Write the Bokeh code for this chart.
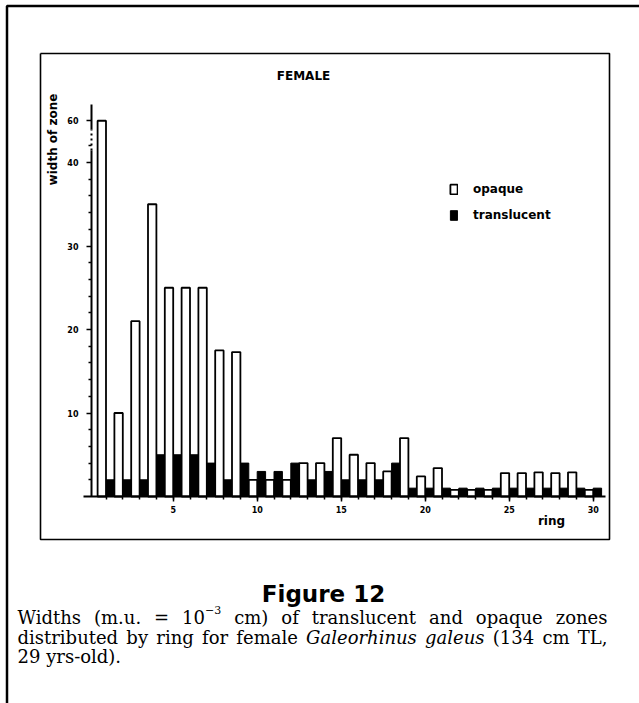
import math
from bokeh.plotting import figure
from bokeh.models import (Range1d, LinearAxis, FixedTicker, Legend, LegendItem,
                          Label, ColumnDataSource)
from bokeh.transform import dodge
from bokeh.embed import file_html
from bokeh.resources import INLINE

# ---------------- data ----------------
rings = list(range(1, 31))
opaque = [60, 10, 21, 35, 25, 25, 25, 17.5, 17.3, 2, 2, 2, 4, 4, 7,
          5, 4, 3, 7, 2.4, 3.4, 0.8, 0.8, 0.8, 2.8, 2.8, 2.9, 2.8, 2.9, 0.8]
translucent = [2, 2, 2, 5, 5, 5, 4, 2, 4, 3, 3, 4, 2, 3, 2,
               2, 2, 4, 1, 1, 1, 1, 1, 1, 1, 1, 1, 1, 1, 1]
x_major_ticks = [5, 10, 15, 20, 25, 30]
y_major_ticks = [10, 20, 30, 40, 60]
y_minor_ticks = [2, 4, 6, 8, 12, 14, 16, 18, 22, 24, 26, 28, 32, 34, 36, 38, 42]

title_text = "FEMALE"
y_label = "width of zone"
x_label = "ring"
fig_label = "Figure 12"

# broken y axis: values above 40 are compressed
BREAK, COMPRESS = 40.0, 0.25
def disp(v):
    return v if v <= BREAK else BREAK + (v - BREAK) * COMPRESS

# ---------------- page-pixel <-> data helpers (layout only) ----------------
W, H = 639, 703
def X(px):
    return 1 + (px - 105.5) / 16.8
def Y(py):
    return (496 - py) / 8.35

p = figure(width=W, height=H, output_backend="svg", toolbar_location=None,
           x_range=Range1d(X(0), X(W)), y_range=Range1d(Y(H), Y(0)),
           x_axis_type=None, y_axis_type=None, min_border=0)
p.outline_line_color = None
p.background_fill_color = "white"
p.border_fill_color = "white"

src = ColumnDataSource(dict(ring=rings,
                            op=[disp(v) for v in opaque],
                            tr=translucent))

tr_r = p.vbar(x=dodge("ring", 0.25, range=p.x_range), top="tr", bottom=0, width=0.5,
              fill_color="black", line_color="black", line_width=1, source=src)
op_r = p.vbar(x=dodge("ring", -0.25, range=p.x_range), top="op", bottom=0, width=0.5,
              fill_color="white", line_color="black", line_width=1.8, source=src)

# ---------------- axes ----------------
FONT = "DejaVu Sans"
xaxis = LinearAxis(fixed_location=0, bounds=(X(83), X(605)),
                   ticker=FixedTicker(ticks=x_major_ticks, minor_ticks=rings))
xaxis.axis_line_width = 2
xaxis.major_tick_in = 0
xaxis.major_tick_out = 5
xaxis.minor_tick_in = 0
xaxis.minor_tick_out = 3
xaxis.major_tick_line_width = 1.5
xaxis.minor_tick_line_width = 1.5
xaxis.major_label_standoff = 4
xaxis.major_label_text_font = FONT
xaxis.major_label_text_font_style = "bold"
xaxis.major_label_text_font_size = "8px"
xaxis.major_label_text_color = "black"
p.add_layout(xaxis, "below")

y_disp_ticks = [disp(t) for t in y_major_ticks]
yaxis = LinearAxis(fixed_location=X(91), bounds=(0, Y(104)),
                   ticker=FixedTicker(ticks=y_disp_ticks, minor_ticks=y_minor_ticks),
                   major_label_overrides={float(d): str(t) for d, t in zip(y_disp_ticks, y_major_ticks)})
yaxis.axis_line_color = None
yaxis.major_tick_in = 0
yaxis.major_tick_out = 5
yaxis.minor_tick_in = 0
yaxis.minor_tick_out = 3
yaxis.major_tick_line_width = 1.5
yaxis.minor_tick_line_width = 1.5
yaxis.major_label_standoff = 8
yaxis.major_label_text_font = FONT
yaxis.major_label_text_font_style = "bold"
yaxis.major_label_text_font_size = "8px"
yaxis.major_label_text_color = "black"
p.add_layout(yaxis, "left")

# y axis line with a dotted break
ax = X(91)
p.line([ax, ax], [0, Y(150)], line_color="black", line_width=2)
p.line([ax, ax], [Y(150), Y(129)], line_color="black", line_width=2, line_dash="2 3")
p.line([ax, ax], [Y(129), Y(104)], line_color="black", line_width=2)

# ---------------- frames ----------------
p.line([X(6.5), X(6.5), X(W)], [Y(H), Y(5.5), Y(5.5)], line_color="black", line_width=2.5)
p.line([X(40), X(609), X(609), X(40), X(40)], [Y(53), Y(53), Y(539), Y(539), Y(53)],
       line_color="black", line_width=1.6)

# ---------------- texts ----------------
def lab(text, px, py, size, font=FONT, style="bold", align="center", baseline="middle", angle=0):
    p.add_layout(Label(x=X(px), y=Y(py), text=text, text_font=font, text_font_style=style,
                       text_font_size=size, text_align=align, text_baseline=baseline,
                       angle=angle, text_color="black"))

lab(title_text, 303, 75, "12px")
lab(y_label, 52, 139, "12px", angle=math.pi / 2)
lab(x_label, 551, 520, "12px")
lab(fig_label, 323, 593, "23px", baseline="alphabetic")

# legend
legend = Legend(items=[LegendItem(label="opaque", renderers=[op_r]),
                       LegendItem(label="translucent", renderers=[tr_r])],
                location=(449, H - 222), padding=0, margin=0, spacing=12,
                glyph_width=9, glyph_height=12, label_height=14, label_standoff=15,
                label_text_font=FONT, label_text_font_style="bold",
                label_text_font_size="12px", label_text_color="black",
                border_line_color=None, background_fill_alpha=0)
p.add_layout(legend)

# ---------------- caption (serif, justified word by word) ----------------
SERIF = "DejaVu Serif"
_EM = {' ': .318, '(': .390, ')': .390, '.': .318, ',': .318, '-': .339, '=': .838,
       '\u2212': .838, 'W': 1.027, 'T': .627, 'L': .620, 'G': .776,
       'a': .596, 'b': .642, 'c': .551, 'd': .642, 'e': .592, 'f': .371, 'g': .642,
       'h': .648, 'i': .320, 'l': .320, 'm': .973, 'n': .648, 'o': .602, 'p': .642,
       'q': .642, 'r': .478, 's': .513, 't': .401, 'u': .648, 'y': .575, 'z': .524}
def tw(text, size, italic=False):
    try:
        from PIL import ImageFont
        f = ImageFont.truetype("DejaVuSerif-Italic.ttf" if italic else "DejaVuSerif.ttf", size)
        return f.getlength(text)
    except Exception:
        return sum(_EM.get(c, .636) for c in text) * size

CS = 18
def justify(pieces, base, x0, x1):
    # pieces: (text, size, italic, attached, raise)
    total = sum(tw(t, s, it) for t, s, it, a, r in pieces)
    ngaps = sum(1 for i, pc in enumerate(pieces) if i > 0 and not pc[3])
    gap = (x1 - x0 - total) / max(ngaps, 1)
    x = x0
    for i, (t, s, it, a, r) in enumerate(pieces):
        if i > 0 and not a:
            x += gap
        lab(t, x, base - r, "%dpx" % s, font=SERIF, style="italic" if it else "normal",
            align="left", baseline="alphabetic")
        x += tw(t, s, it)

line1 = [("Widths", CS, False, False, 0), ("(m.u.", CS, False, False, 0),
         ("=", CS, False, False, 0), ("10", CS, False, False, 0),
         ("\u22123", 11, False, True, 7), ("cm)", CS, False, False, 0),
         ("of", CS, False, False, 0), ("translucent", CS, False, False, 0),
         ("and", CS, False, False, 0), ("opaque", CS, False, False, 0),
         ("zones", CS, False, False, 0)]
line2 = [("distributed", CS, False, False, 0), ("by", CS, False, False, 0),
         ("ring", CS, False, False, 0), ("for", CS, False, False, 0),
         ("female", CS, False, False, 0), ("Galeorhinus", CS, True, False, 0),
         ("galeus", CS, True, False, 0), ("(134", CS, False, False, 0),
         ("cm", CS, False, False, 0), ("TL,", CS, False, False, 0)]
justify(line1, 616.5, 17, 607)
justify(line2, 636.5, 17, 607)
lab("29 yrs-old).", 17, 656, "%dpx" % CS, font=SERIF, style="normal", align="left",
    baseline="alphabetic")

open("out.html", "w").write(file_html(p, INLINE))
